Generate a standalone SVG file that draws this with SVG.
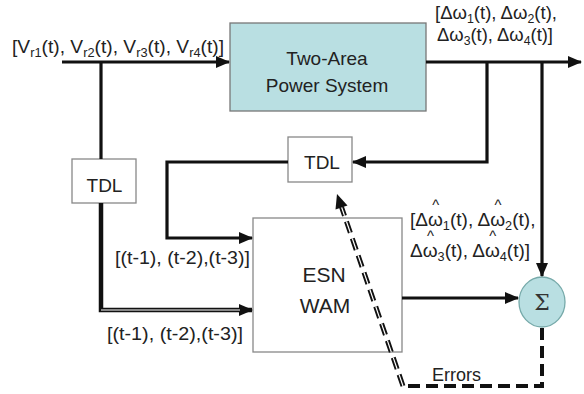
<svg xmlns="http://www.w3.org/2000/svg" width="584" height="394" viewBox="0 0 584 394">
<defs>
<marker id="ah" markerUnits="userSpaceOnUse" markerWidth="14" markerHeight="12" refX="13" refY="6" orient="auto">
<path d="M0,0 L14,6 L0,12 Z" fill="#111"/>
</marker>
<style>
.box{fill:#fff;stroke:#888;stroke-width:1.3}
.ps{fill:#b9dfe2;stroke:#777;stroke-width:1.3}
.t{font-family:"Liberation Sans",Arial,sans-serif;fill:#222}
.w{stroke:#111;stroke-width:3.2;fill:none}
.sub{font-size:12px}
.hat{font-size:14px}
</style>
</defs>
<rect width="584" height="394" fill="#fff"/>

<g id="power-system">
<rect class="ps" x="230" y="23" width="196" height="88"/>
<text class="t" x="327" y="65" font-size="19" text-anchor="middle">Two-Area</text>
<text class="t" x="327" y="92" font-size="19" text-anchor="middle">Power System</text>
</g>

<g id="tdl1">
<rect class="box" x="72" y="159" width="64" height="44"/>
<text class="t" x="104.5" y="192" font-size="19" text-anchor="middle">TDL</text>
</g>

<g id="tdl2">
<rect class="box" x="288" y="137" width="64" height="45"/>
<text class="t" x="322" y="169" font-size="19" text-anchor="middle">TDL</text>
</g>

<g id="esn-wam">
<rect class="box" x="253" y="218" width="149" height="134"/>
<text class="t" x="324" y="282" font-size="21" text-anchor="middle">ESN</text>
<text class="t" x="325" y="313" font-size="21" text-anchor="middle">WAM</text>
</g>

<g id="sum">
<ellipse cx="542" cy="302" rx="23" ry="25" fill="#b9dfe2" stroke="#7aa" stroke-width="1.3"/>
<text x="542" y="310" font-size="22" text-anchor="middle" font-family="'DejaVu Serif',serif" fill="#333">Σ</text>
</g>

<g id="connectors">
<path class="w" d="M62,62 H229" marker-end="url(#ah)"/>
<path class="w" d="M426,62 H581" marker-end="url(#ah)"/>
<path class="w" d="M101,62 V159"/>
<path d="M101,203 V310 H252" fill="none" stroke="#111" stroke-width="4.5" marker-end="url(#ah)"/>
<path d="M101,310 H240" stroke="#fff" stroke-width="1" fill="none"/>
<path class="w" d="M487,62 V162 H353" marker-end="url(#ah)"/>
<path class="w" d="M288,162 H167 V238 H252" marker-end="url(#ah)"/>
<path class="w" d="M542,62 V276" marker-end="url(#ah)"/>
<path class="w" d="M402,298 H518" marker-end="url(#ah)"/>
<path d="M542,328 V386 H403" fill="none" stroke="#111" stroke-width="4" stroke-dasharray="12,6"/>
<path d="M403,386 L341.5,207" fill="none" stroke="#111" stroke-width="5" stroke-dasharray="12,6"/>
<path d="M403,386 L341.5,207" fill="none" stroke="#fff" stroke-width="1.2" stroke-dasharray="12,6"/>
<path d="M337,194 L347.5,205.5 L335.5,209.5 Z" fill="#111"/>
</g>

<g id="labels">
<text class="t" x="12" y="53" font-size="18" textLength="212" lengthAdjust="spacingAndGlyphs">[V<tspan class="sub" dy="4">r1</tspan><tspan dy="-4">(t), V</tspan><tspan class="sub" dy="4">r2</tspan><tspan dy="-4">(t), V</tspan><tspan class="sub" dy="4">r3</tspan><tspan dy="-4">(t), V</tspan><tspan class="sub" dy="4">r4</tspan><tspan dy="-4">(t)]</tspan></text>
<text class="t" x="435" y="19" font-size="18" textLength="122" lengthAdjust="spacingAndGlyphs">[Δω<tspan class="sub" dy="4">1</tspan><tspan dy="-4">(t), Δω</tspan><tspan class="sub" dy="4">2</tspan><tspan dy="-4">(t),</tspan></text>
<text class="t" x="437" y="41" font-size="18" textLength="116" lengthAdjust="spacingAndGlyphs">Δω<tspan class="sub" dy="4">3</tspan><tspan dy="-4">(t), Δω</tspan><tspan class="sub" dy="4">4</tspan><tspan dy="-4">(t)]</tspan></text>
<text class="t" font-size="18" transform="translate(410,226) scale(1.06,1)">[Δω<tspan class="hat" dx="-10" dy="-16">^</tspan><tspan class="sub" dx="3.4" dy="20">1</tspan><tspan dy="-4">(t), Δω</tspan><tspan class="hat" dx="-10" dy="-16">^</tspan><tspan class="sub" dx="3.4" dy="20">2</tspan><tspan dy="-4">(t),</tspan></text>
<text class="t" font-size="18" transform="translate(410,257) scale(1.06,1)">Δω<tspan class="hat" dx="-10" dy="-16">^</tspan><tspan class="sub" dx="3.4" dy="20">3</tspan><tspan dy="-4">(t), Δω</tspan><tspan class="hat" dx="-10" dy="-16">^</tspan><tspan class="sub" dx="3.4" dy="20">4</tspan><tspan dy="-4">(t)]</tspan></text>
<text class="t" x="115" y="264" font-size="19" textLength="135" lengthAdjust="spacingAndGlyphs">[(t-1), (t-2),(t-3)]</text>
<text class="t" x="107" y="340" font-size="19" textLength="136" lengthAdjust="spacingAndGlyphs">[(t-1), (t-2),(t-3)]</text>
<text class="t" x="432" y="381" font-size="18">Errors</text>
</g>
</svg>
